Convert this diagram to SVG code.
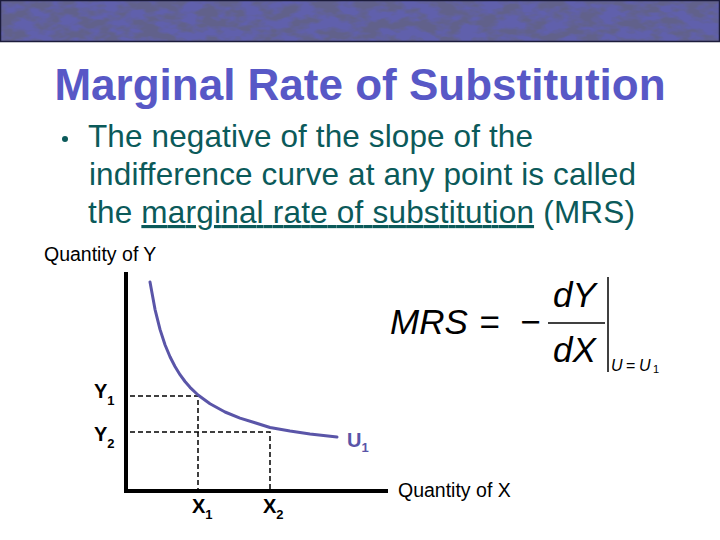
<svg xmlns="http://www.w3.org/2000/svg" width="720" height="540" viewBox="0 0 720 540">
<defs>
<style>
.title{font-family:"Liberation Sans",Arial,sans-serif;font-weight:bold;font-size:44px;fill:#5858c6}
.body{font-family:"Liberation Sans",Arial,sans-serif;font-size:31.5px;fill:#0b5a5a}
.lab{font-family:"Liberation Sans",Arial,sans-serif;font-size:19.5px;fill:#000}
.pt{font-family:"Liberation Sans",Arial,sans-serif;font-size:20px;font-weight:bold;fill:#000}
.sub{font-size:13px}
.math{font-family:"Liberation Sans",Arial,sans-serif;font-style:italic;font-size:35px;fill:#000}
.msub{font-family:"Liberation Sans",Arial,sans-serif;font-size:16px;fill:#000}
.dash{stroke:#000;stroke-width:1.5;stroke-dasharray:5 3;fill:none}
.axis{stroke:#000;stroke-width:4;fill:none}
</style>
<filter id="tex" x="0" y="0" width="100%" height="100%">
<feTurbulence type="fractalNoise" baseFrequency="0.05 0.1" numOctaves="3" seed="7"/>
<feColorMatrix type="matrix" values="0 0 0 0 0.12  0 0 0 0 0.12  0 0 0 0 0.26  4 0 0 0 -1.5"/>
</filter>
</defs>
<rect width="720" height="540" fill="#fff"/>
<g id="banner">
<rect x="0" y="0" width="720" height="42" fill="#6060ac"/>
<rect x="0" y="0" width="720" height="42" filter="url(#tex)"/>
<rect x="0.5" y="0.5" width="719" height="41" fill="none" stroke="#1c1c3c" stroke-width="1.5"/>
</g>
<g id="title">
<text class="title" x="360" y="100" text-anchor="middle">Marginal Rate of Substitution</text>
</g>
<g id="bullet">
<circle cx="65" cy="139" r="3" fill="#0b5a5a"/>
<text class="body" x="88" y="147" textLength="445" lengthAdjust="spacing">The negative of the slope of the</text>
<text class="body" x="89" y="185" textLength="547" lengthAdjust="spacing">indifference curve at any point is called</text>
<text class="body" x="88" y="223" textLength="547" lengthAdjust="spacing">the <tspan text-decoration="underline">marginal rate of substitution</tspan> (MRS)</text>
</g>
<g id="axes">
<line class="axis" x1="126" y1="272" x2="126" y2="493"/>
<line class="axis" x1="124" y1="491" x2="388" y2="491"/>
<text class="lab" x="44" y="261">Quantity of Y</text>
<text class="lab" x="398" y="497">Quantity of X</text>
</g>
<g id="connectors">
<polyline class="dash" points="130,396 198,396 198,490"/>
<polyline class="dash" points="130,432 270,432 270,490"/>
</g>
<g id="curve">
<path d="M150,282 L155,309.3 L160,329.4 L165,344.7 L170,356.8 L175,366.5 L180,374.7 L185,381.5 L190,387.3 L198,395 L210,403.8 L225,412 L240,418.1 L255,422.8 L270,427.5 L290,431 L310,434 L337,437" fill="none" stroke="#5a55a8" stroke-width="3" stroke-linejoin="round" stroke-linecap="round"/>
<text x="347" y="447" font-family="Liberation Sans,Arial,sans-serif" font-size="20" font-weight="bold" fill="#5a55a8">U<tspan font-size="13" dy="5">1</tspan></text>
</g>
<g id="labels">
<text class="pt" x="94" y="398">Y<tspan class="sub" dy="7">1</tspan></text>
<text class="pt" x="94" y="441">Y<tspan class="sub" dy="7">2</tspan></text>
<text class="pt" x="192" y="513">X<tspan class="sub" dy="6">1</tspan></text>
<text class="pt" x="263" y="513">X<tspan class="sub" dy="6">2</tspan></text>
</g>
<g id="formula">
<text class="math" x="390" y="334">MRS</text>
<text class="math" x="479" y="334" font-style="normal" font-size="38">=</text>
<text class="math" x="520" y="334" font-style="normal">−</text>
<text class="math" x="553" y="307">dY</text>
<line x1="548" y1="323" x2="605" y2="323" stroke="#000" stroke-width="1.5"/>
<text class="math" x="553" y="362">dX</text>
<line x1="608" y1="277" x2="608" y2="372" stroke="#000" stroke-width="1.5"/>
<text class="msub" y="371"><tspan x="611" font-style="italic">U</tspan><tspan x="626">=</tspan><tspan x="639" font-style="italic">U</tspan><tspan x="653" font-size="11" dy="2">1</tspan></text>
</g>
</svg>
